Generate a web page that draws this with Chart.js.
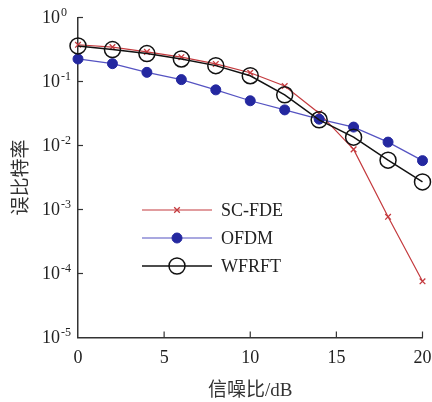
<!DOCTYPE html>
<html>
<head>
<meta charset="utf-8">
<script src="https://cdn.jsdelivr.net/npm/chart.js@4.4.1/dist/chart.umd.min.js"></script>
<style>
html,body{margin:0;padding:0;background:#fff;}
#wrap{width:432px;height:402px;position:relative;}
</style>
</head>
<body>
<div id="wrap"><canvas id="c" width="432" height="402"></canvas></div>
<script>
// ---- data ----
const snr = [0, 2, 4, 6, 8, 10, 12, 14, 16, 18, 20];
const scfde = [0.375, 0.345, 0.29, 0.24, 0.188, 0.137, 0.085, 0.032, 0.0087, 0.00077, 0.0000755];
const ofdm  = [0.225, 0.19, 0.139, 0.107, 0.074, 0.050, 0.036, 0.0258, 0.0194, 0.0113, 0.0058];
const wfrft = [0.36, 0.315, 0.273, 0.225, 0.177, 0.123, 0.062, 0.0252, 0.0135, 0.0059, 0.0027];
const seriesNames = ['SC-FDE', 'OFDM', 'WFRFT'];
const xTicks = [0, 5, 10, 15, 20];
const yExponents = [0, -1, -2, -3, -4, -5];
const xTitle = '信噪比/dB';
const yTitle = '误比特率';

const SERIF = "'Liberation Serif', 'Times New Roman', serif";
const CJK = "'Liberation Serif', 'Noto Sans CJK SC', serif";

function pts(arr) { return snr.map((x, i) => ({x: x, y: arr[i]})); }

const inner = {
  id: 'inner',
  afterDraw(chart) {
    const ctx = chart.ctx, ca = chart.chartArea;
    const xs = chart.scales.x, ys = chart.scales.y;
    ctx.save();
    ctx.strokeStyle = '#333';
    ctx.lineWidth = 1.2;
    // inner ticks on x
    xTicks.forEach(v => {
      if (v === xs.min) return;
      const px = xs.getPixelForValue(v);
      ctx.beginPath(); ctx.moveTo(px, ca.bottom); ctx.lineTo(px, ca.bottom - 6); ctx.stroke();
    });
    // y ticks + labels
    ctx.fillStyle = '#222';
    yExponents.forEach(e => {
      const py = ys.getPixelForValue(Math.pow(10, e));
      if (e !== -5) {
        ctx.beginPath(); ctx.moveTo(ca.left, py); ctx.lineTo(ca.left + 5, py); ctx.stroke();
      }
      ctx.font = '18px ' + SERIF;
      ctx.textAlign = 'right'; ctx.textBaseline = 'middle';
      ctx.fillText('10', ca.left - 18, py + 1);
      ctx.font = '12px ' + SERIF;
      ctx.textAlign = 'left'; ctx.textBaseline = 'alphabetic';
      ctx.fillText(String(e), ca.left - 17, py - 2);
    });
    // legend
    const lx0 = 142, lx1 = 212, mx = 177, tx = 221, ty0 = 210, dy = 28;
    chart.data.datasets.forEach((ds, i) => {
      const y = ty0 + dy * i;
      ctx.strokeStyle = ds.borderColor;
      ctx.lineWidth = ds.borderWidth;
      ctx.beginPath(); ctx.moveTo(lx0, y); ctx.lineTo(lx1, y); ctx.stroke();
      const r = ds.pointRadius;
      ctx.lineWidth = ds.pointBorderWidth;
      ctx.strokeStyle = ds.pointBorderColor;
      ctx.fillStyle = ds.pointBackgroundColor;
      if (ds.pointStyle === 'crossRot') {
        ctx.beginPath();
        ctx.moveTo(mx - r * 0.7, y - r * 0.7); ctx.lineTo(mx + r * 0.7, y + r * 0.7);
        ctx.moveTo(mx + r * 0.7, y - r * 0.7); ctx.lineTo(mx - r * 0.7, y + r * 0.7);
        ctx.stroke();
      } else {
        ctx.beginPath(); ctx.arc(mx, y, r, 0, Math.PI * 2);
        ctx.fill(); ctx.stroke();
      }
      ctx.fillStyle = '#222';
      ctx.font = '18px ' + SERIF;
      ctx.textAlign = 'left'; ctx.textBaseline = 'middle';
      ctx.fillText(ds.label, tx, y + 1);
    });
    ctx.restore();
  }
};

new Chart(document.getElementById('c'), {
  type: 'line',
  data: {
    datasets: [
      {label: seriesNames[0], data: pts(scfde), borderColor: '#c43a3e', borderWidth: 1.2,
       pointStyle: 'crossRot', pointRadius: 4, pointBorderWidth: 1.3,
       pointBorderColor: '#c43a3e', pointBackgroundColor: '#c43a3e', clip: false, order: 3},
      {label: seriesNames[1], data: pts(ofdm), borderColor: '#5553c2', borderWidth: 1.2,
       pointStyle: 'circle', pointRadius: 5, pointBorderWidth: 1,
       pointBorderColor: '#2428a0', pointBackgroundColor: '#2428a0', clip: false, order: 2},
      {label: seriesNames[2], data: pts(wfrft), borderColor: '#111', borderWidth: 1.5,
       pointStyle: 'circle', pointRadius: 8, pointBorderWidth: 1.5,
       pointBorderColor: '#111', pointBackgroundColor: 'rgba(0,0,0,0)', clip: false, order: 1}
    ]
  },
  options: {
    responsive: false,
    animation: false,
    events: [],
    layout: {padding: {top: 17.5, right: 9, left: 0, bottom: 0}},
    plugins: {legend: {display: false}, tooltip: {enabled: false}},
    elements: {line: {tension: 0}},
    scales: {
      x: {
        type: 'linear', min: 0, max: 20,
        afterBuildTicks(s) { s.ticks = xTicks.map(v => ({value: v})); },
        afterFit(s) { s.height = 64.5; s.paddingLeft = 0; s.paddingRight = 0; },
        grid: {display: false, drawTicks: false},
        border: {display: true, color: '#333', width: 1.5},
        ticks: {font: {family: SERIF, size: 18}, color: '#222', padding: 10, maxRotation: 0},
        title: {display: true, text: xTitle, font: {family: CJK, size: 19}, color: '#333',
                padding: {top: 0, bottom: 0}}
      },
      y: {
        type: 'logarithmic', min: 1e-5, max: 1,
        afterFit(s) { s.width = 78; s.paddingTop = 0; s.paddingBottom = 0; },
        grid: {display: false, drawTicks: false},
        border: {display: true, color: '#333', width: 1.5},
        ticks: {display: false},
        title: {display: true, text: yTitle, font: {family: "'Noto Sans CJK SC', sans-serif", size: 19},
                color: '#333', padding: {top: 8, bottom: 0}}
      }
    }
  },
  plugins: [inner]
});
</script>
</body>
</html>
